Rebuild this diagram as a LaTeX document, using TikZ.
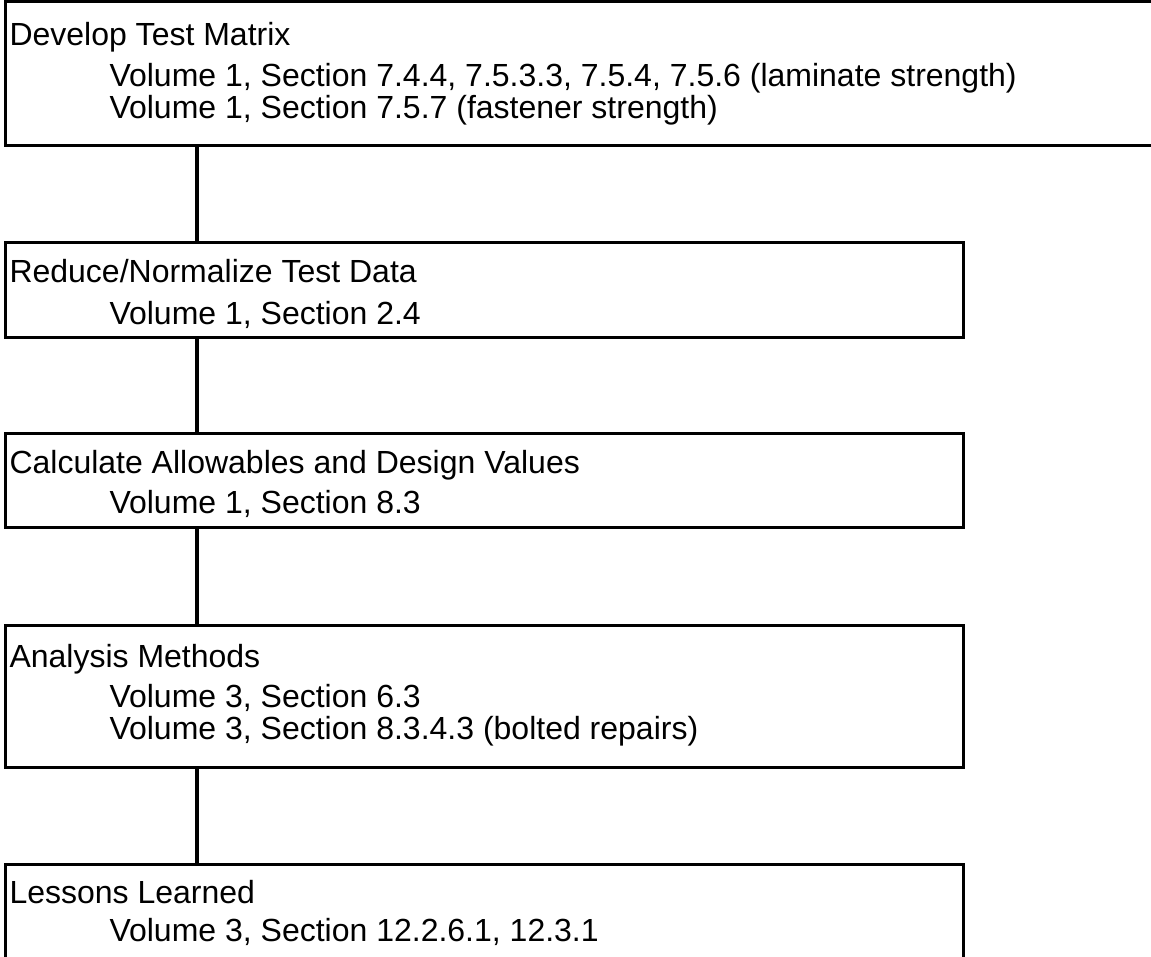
\documentclass[tikz,border=0pt]{standalone}
\usepackage{fontspec}
\setmainfont{Liberation Sans}
\begin{document}
\begin{tikzpicture}[x=1pt,y=-1pt,
  box/.style={draw=black, line width=3pt, rectangle, inner sep=0pt, outer sep=0pt, anchor=north west},
  conn/.style={draw=black, line width=3.5pt},
  txt/.style={inner sep=0pt, outer sep=0pt, anchor=base west, font=\fontsize{32}{38}\selectfont}]
\clip (0,0) rectangle (1151,957);
\fill[white] (0,0) rectangle (1151,957);
% boxes
\node[box, minimum width=1170pt, minimum height=144pt] (b1) at (5.5,2) {};
\node[box, minimum width=957.5pt, minimum height=95.5pt] (b2) at (5.5,242.5) {};
\node[box, minimum width=957.5pt, minimum height=94pt] (b3) at (5.5,433.7) {};
\node[box, minimum width=957.5pt, minimum height=142pt] (b4) at (5.5,625.3) {};
\node[box, minimum width=957.5pt, minimum height=120pt] (b5) at (5.5,864.5) {};
% connectors
\coordinate (cx) at (197,0);
\draw[conn] (cx |- b1.south) -- (cx |- b2.north);
\draw[conn] (cx |- b2.south) -- (cx |- b3.north);
\draw[conn] (cx |- b3.south) -- (cx |- b4.north);
\draw[conn] (cx |- b4.south) -- (cx |- b5.north);
% texts
\node[txt] (t1a) at (9.5,45.5) {Develop Test Matrix};
\node[txt] (t1b) at (109.5,87) {Volume 1, Section 7.4.4, 7.5.3.3, 7.5.4, 7.5.6 (laminate strength)};
\node[txt] (t1c) at (109.5,119) {Volume 1, Section 7.5.7 (fastener strength)};
\node[txt] (t2a) at (9.5,282.5) {Reduce/Normalize Test Data};
\node[txt] (t2b) at (109.5,325) {Volume 1, Section 2.4};
\node[txt] (t3a) at (9.5,473.5) {Calculate Allowables and Design Values};
\node[txt] (t3b) at (109.5,513.5) {Volume 1, Section 8.3};
\node[txt] (t4a) at (9.5,667) {Analysis Methods};
\node[txt] (t4b) at (109.5,707.5) {Volume 3, Section 6.3};
\node[txt] (t4c) at (109.5,739) {Volume 3, Section 8.3.4.3 (bolted repairs)};
\node[txt] (t5a) at (9.5,903.5) {Lessons Learned};
\node[txt] (t5b) at (109.5,941.5) {Volume 3, Section 12.2.6.1, 12.3.1};
\end{tikzpicture}
\end{document}
